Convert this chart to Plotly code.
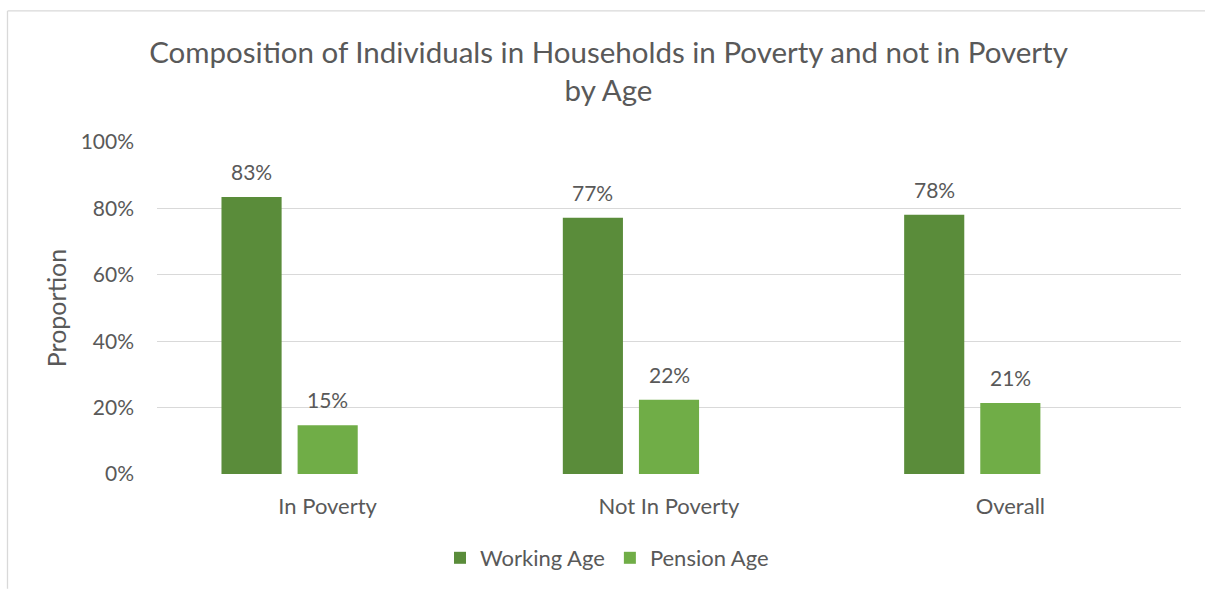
import plotly.graph_objects as go

# Data
categories = ["In Poverty", "Not In Poverty", "Overall"]
working_age = [0.834, 0.772, 0.781]
pension_age = [0.147, 0.224, 0.214]
y_ticks = [0, 0.2, 0.4, 0.6, 0.8, 1.0]
y_tick_labels = ["0%", "20%", "40%", "60%", "80%", "100%"]

FONT = "Lato"
TEXT = "#595959"
DARK_GREEN = "#5A8C3A"
LIGHT_GREEN = "#70AD47"
BORDER = "#D9D9D9"

W, H = 1205, 590
L, R, T, B = 157, 24, 142, 115
pw, ph = W - L - R, H - T - B

BARGAP, GROUPGAP, N_SLOTS = 0.331, 0.21, 3


def px_x(x):
    return (x - L) / pw


def px_y(y):
    return (H - B - y) / ph


# horizontal centre of each series' bar relative to its category, in px
cat_px = pw / len(categories)
slot_px = cat_px * (1 - BARGAP) / N_SLOTS


def slot_shift(i):
    return (i - (N_SLOTS - 1) / 2) * slot_px


fig = go.Figure()
fig.add_trace(go.Bar(
    x=categories, y=working_age, name="Working Age",
    marker=dict(color=DARK_GREEN, line=dict(width=0)),
    offsetgroup="w",
))
fig.add_trace(go.Bar(
    x=categories, y=pension_age, name="Pension Age",
    marker=dict(color=LIGHT_GREEN, line=dict(width=0)),
    offsetgroup="p",
))
# empty third series keeps its slot in each group
fig.add_trace(go.Bar(
    x=categories, y=[None, None, None], name="",
    showlegend=False, hoverinfo="skip", offsetgroup="e",
    marker=dict(color=LIGHT_GREEN),
))

# value labels above the bars
annotations = []
for i, series in enumerate([working_age, pension_age]):
    for cat, v in zip(categories, series):
        annotations.append(dict(
            x=cat, y=v, xref="x", yref="y",
            text=f"{v:.0%}", showarrow=False,
            xanchor="center", yanchor="bottom",
            xshift=slot_shift(i), yshift=11,
            font=dict(family=FONT, size=21, color=TEXT),
        ))

# chart-area frame: top and left edges
frame = [
    dict(type="line", xref="paper", yref="paper",
         x0=px_x(7.5), x1=px_x(1205), y0=px_y(10.5), y1=px_y(10.5),
         line=dict(color=BORDER, width=1.3), layer="below"),
    dict(type="line", xref="paper", yref="paper",
         x0=px_x(7.5), x1=px_x(7.5), y0=px_y(10.5), y1=px_y(590),
         line=dict(color=BORDER, width=1.3), layer="below"),
]

fig.update_layout(
    width=W, height=H,
    margin=dict(l=L, r=R, t=T, b=B),
    paper_bgcolor="white", plot_bgcolor="white",
    font=dict(family=FONT, color=TEXT),
    title=dict(
        text="Composition of Individuals in Households in Poverty and not in Poverty<br>by Age",
        x=608.5 / W, xref="container", xanchor="center",
        y=1 - 63 / H, yref="container", yanchor="top",
        font=dict(family=FONT, size=29.5, color=TEXT),
    ),
    barmode="group", bargap=BARGAP, bargroupgap=GROUPGAP,
    showlegend=True,
    legend=dict(
        orientation="h", x=px_x(607), xanchor="center",
        y=px_y(558), yanchor="middle",
        font=dict(family=FONT, size=22, color=TEXT),
        itemwidth=30, traceorder="normal",
    ),
    xaxis=dict(
        showgrid=False, showline=False, zeroline=False,
        ticks="", tickfont=dict(family=FONT, size=22, color=TEXT),
        ticklabelstandoff=17,
    ),
    yaxis=dict(
        range=[0, 1.0], tickvals=y_ticks, ticktext=y_tick_labels,
        showgrid=True, gridcolor=BORDER, gridwidth=1.3,
        zeroline=False, showline=False, ticks="",
        tickfont=dict(family=FONT, size=21, color=TEXT),
        ticklabelstandoff=22,
        title=dict(text="Proportion", standoff=6,
                   font=dict(family=FONT, size=25, color=TEXT)),
    ),
    annotations=annotations,
    shapes=frame,
)

fig.write_html("out.html")
